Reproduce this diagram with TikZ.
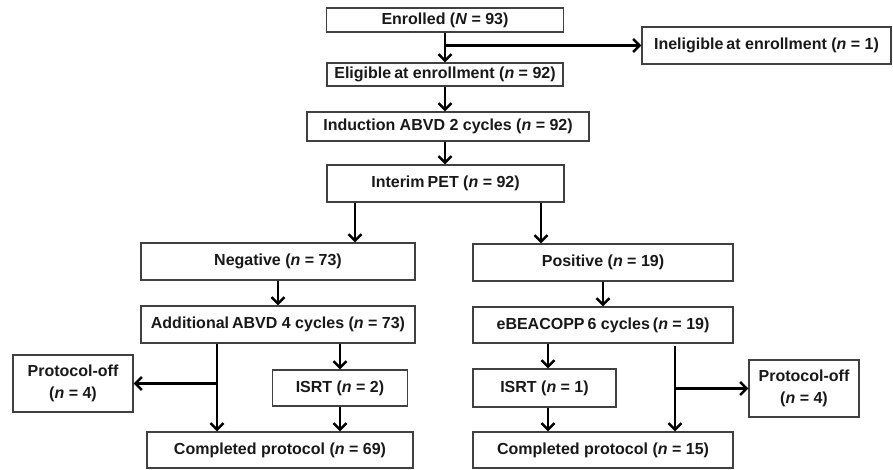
\documentclass[tikz,border=0pt]{standalone}
\usepackage{fontspec}
\setmainfont{Liberation Sans}
\usetikzlibrary{arrows.meta}
\newcommand{\xsp}{\hspace{3pt}}
\begin{document}
\begin{tikzpicture}[x=1pt,y=-1pt,
  box/.style={draw=black!75,line width=1.4pt,fill=white,inner sep=0pt,
    font=\bfseries\fontsize{16}{21.5}\selectfont,text=black!90,align=center},
  arr/.style={line width=2.8pt,-{Straight Barb[length=6.5pt,width=13pt,line width=2.4pt]}}]
\useasboundingbox (0,0) rectangle (893,469);
% main column
\node[box,minimum width=237pt,minimum height=24pt] (enr) at (445,20) {Enrolled (\textit{N} = 93)};
\node[box,minimum width=249pt,minimum height=37pt] (inel) at (766.5,45.5) {Ineligible\xsp at enrollment (\textit{n} = 1)};
\node[box,minimum width=236pt,minimum height=23pt] (elig) at (445,74.5) {Eligible\xsp at enrollment (\textit{n} = 92)};
\node[box,minimum width=282pt,minimum height=29pt] (ind) at (448,126.5) {Induction ABVD 2 cycles (\textit{n} = 92)};
\node[box,minimum width=237pt,minimum height=37pt] (pet) at (445.5,183.5) {Interim\xsp PET (\textit{n} = 92)};
% left branch
\node[box,minimum width=274pt,minimum height=37pt] (neg) at (278,261.5) {Negative (\textit{n} = 73)};
\node[box,minimum width=274pt,minimum height=37pt] (add) at (278,324.5) {Additional\xsp ABVD 4 cycles (\textit{n} = 73)};
\node[box,minimum width=120pt,minimum height=57pt] (offL) at (73,383.5) {Protocol-off\\(\textit{n} = 4)};
\node[box,minimum width=135pt,minimum height=36pt] (isrtL) at (340,388) {ISRT (\textit{n} = 2)};
\node[box,minimum width=266pt,minimum height=36pt] (compL) at (280,450) {Completed protocol (\textit{n} = 69)};
% right branch
\node[box,minimum width=260pt,minimum height=37pt] (pos) at (603,262.5) {Positive (\textit{n} = 19)};
\node[box,minimum width=260pt,minimum height=36pt] (ebe) at (603,325) {eBEACOPP\xsp 6 cycles\xsp (\textit{n} = 19)};
\node[box,minimum width=143pt,minimum height=38pt] (isrtR) at (544.5,388) {ISRT (\textit{n} = 1)};
\node[box,minimum width=110pt,minimum height=57pt] (offR) at (804,388.5) {Protocol-off\\(\textit{n} = 4)};
\node[box,minimum width=260pt,minimum height=36pt] (compR) at (603,450) {Completed protocol (\textit{n} = 15)};
% connectors main column
\draw[arr] (enr.south) -- (enr.south |- elig.north);
\coordinate (b1) at (enr.south |- inel.west);
\draw[arr] (b1) -- (inel.west);
\draw[arr] (elig.south) -- (elig.south |- ind.north);
\draw[arr] (elig.south |- ind.south) -- (elig.south |- pet.north);
\draw[arr] ([xshift=-90.5pt]pet.south) -- ([xshift=-90.5pt]pet.south |- neg.north);
\draw[arr] ([xshift=95.5pt]pet.south) -- ([xshift=95.5pt]pet.south |- pos.north);
% left
\draw[arr] (neg.south) -- (add.north);
\coordinate (lx) at ([xshift=-61pt]add.south);
\draw[arr] (lx) -- (lx |- compL.north);
\draw[arr] (lx |- offL.east) -- (offL.east);
\draw[arr] (isrtL.north |- add.south) -- (isrtL.north);
\draw[arr] (isrtL.south) -- (isrtL.south |- compL.north);
% right
\draw[arr] (pos.south) -- (ebe.north);
\coordinate (rx) at ([xshift=3.5pt]isrtR.north);
\draw[arr] (rx |- ebe.south) -- (rx);
\draw[arr] ([xshift=3.5pt]isrtR.south) -- ([xshift=3.5pt]isrtR.south |- compR.north);
\coordinate (ry) at ([xshift=72pt,yshift=-2pt]ebe.south);
\draw[arr] (ry) -- (ry |- compR.north);
\draw[arr] (ry |- offR.west) -- (offR.west);
\end{tikzpicture}
\end{document}
